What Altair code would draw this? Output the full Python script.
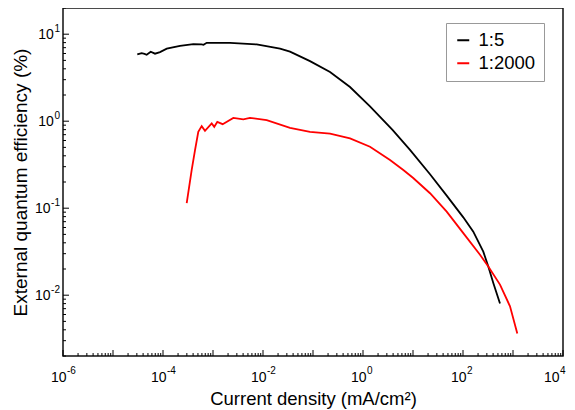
import altair as alt
import pandas as pd

series_names = ["1:5", "1:2000"]
series_colors = ["black", "red"]

# 1:5 device
j_15 = [3.06e-5, 3.75e-5, 4.27e-5, 4.72e-5, 5.68e-5, 6.92e-5, 8.71e-5, 1.19e-4, 2.19e-4, 4.04e-4,
        5.94e-4, 6.46e-4, 7.48e-4, 2.19e-3, 7.48e-3, 0.0219, 0.0347, 0.0871, 0.219, 0.55,
        1.38, 3.89, 8.71, 21.9, 47.2, 101.4, 160.7, 254.7, 320.6, 403.6, 549.5]
eqe_15 = [5.85, 6.05, 5.95, 5.80, 6.28, 5.97, 6.23, 6.81, 7.36, 7.68,
          7.62, 7.55, 7.96, 7.96, 7.62, 6.84, 6.31, 4.9, 3.67, 2.47,
          1.479, 0.794, 0.468, 0.2455, 0.1396, 0.0785, 0.0537, 0.0316, 0.0214, 0.01383, 0.00802]

# 1:2000 device
j_12000 = [2.98e-4, 3.75e-4, 4.37e-4, 5.08e-4, 5.94e-4, 6.92e-4, 9.42e-4, 1.06e-3, 1.22e-3, 1.56e-3,
           2.55e-3, 4.04e-3, 5.5e-3, 0.01186, 0.0347, 0.0871, 0.219, 0.55, 1.38, 3.47,
           6.4, 10.1, 21.9, 47.2, 101.4, 218.8, 320.6, 549.5, 871, 1219]
eqe_12000 = [0.114, 0.275, 0.466, 0.753, 0.877, 0.774, 0.942, 0.861, 0.982, 0.924,
             1.09, 1.05, 1.09, 1.03, 0.84, 0.753, 0.72, 0.634, 0.508, 0.357,
             0.275, 0.222, 0.1486, 0.0914, 0.0517, 0.0292, 0.0214, 0.01324, 0.00746, 0.00363]

x_domain = [1e-6, 1e4]
y_domain = [0.002, 20]
x_label_values = [1e-6, 1e-4, 1e-2, 1, 1e2, 1e4]
x_label_exps = ["-6", "-4", "-2", "0", "2", "4"]
y_label_values = [1e-2, 1e-1, 1, 10]
y_label_exps = ["-2", "-1", "0", "1"]
x_decades = list(range(-6, 5))
y_decades = list(range(-3, 2))
minor_mults = [2, 3, 4, 5, 6, 7, 8, 9]

W, H = 500, 348
FONT = "Liberation Sans"
BASE_FS, EXP_FS = 14, 10

df = pd.concat([
    pd.DataFrame({"j": j_15, "eqe": eqe_15, "s": series_names[0]}),
    pd.DataFrame({"j": j_12000, "eqe": eqe_12000, "s": series_names[1]}),
])

x_major = pd.DataFrame({"v": [10.0 ** e for e in x_decades]})
x_minor = pd.DataFrame({"v": [m * 10.0 ** e for e in x_decades[:-1] for m in minor_mults]})
y_major = pd.DataFrame({"v": [10.0 ** e for e in y_decades[1:]]})
y_minor = pd.DataFrame({"v": [m * 10.0 ** e for e in y_decades for m in minor_mults
                               if y_domain[0] <= m * 10.0 ** e <= y_domain[1]]})
x_labels = pd.DataFrame({"v": x_label_values, "base": "10", "exp": x_label_exps})
y_labels = pd.DataFrame({"v": y_label_values, "base": "10", "exp": y_label_exps})

xs = alt.Scale(type="log", domain=x_domain, nice=False)
ys = alt.Scale(type="log", domain=y_domain, nice=False)

x_axis = alt.Axis(
    values=x_label_values, labels=False, ticks=False, domain=False, grid=False,
    title="Current density (mA/cm²)", titleFontSize=18.5,
    titleFontWeight="normal", titleColor="black", titleY=48, titleBaseline="alphabetic")
y_axis = alt.Axis(
    values=y_label_values, labels=False, ticks=False, domain=False, grid=False,
    title="External quantum efficiency (%)", titleFontSize=19,
    titleFontWeight="normal", titleColor="black", titleX=-43, titleY=H / 2,
    titleBaseline="middle")

lines = alt.Chart(df).mark_line(strokeWidth=1.8, clip=True).encode(
    x=alt.X("j:Q", scale=xs, axis=x_axis),
    y=alt.Y("eqe:Q", scale=ys, axis=y_axis),
    color=alt.Color("s:N", scale=alt.Scale(domain=series_names, range=series_colors),
                    legend=alt.Legend(orient="none", legendX=383, legendY=15, title=None,
                                      labelFontSize=18.5, labelColor="black", labelOffset=6,
                                      symbolType="stroke", symbolStrokeWidth=2, symbolSize=144,
                                      strokeColor="#999", fillColor="white", padding=8,
                                      rowPadding=4)),
)

xt_major = alt.Chart(x_major).mark_rule(color="black", strokeWidth=1).encode(
    x=alt.X("v:Q", scale=xs, axis=x_axis), y=alt.value(H), y2=alt.value(H - 6))
xt_minor = alt.Chart(x_minor).mark_rule(color="black", strokeWidth=1).encode(
    x=alt.X("v:Q", scale=xs, axis=x_axis), y=alt.value(H), y2=alt.value(H - 3))
yt_major = alt.Chart(y_major).mark_rule(color="black", strokeWidth=1).encode(
    y=alt.Y("v:Q", scale=ys, axis=y_axis), x=alt.value(0), x2=alt.value(6))
yt_minor = alt.Chart(y_minor).mark_rule(color="black", strokeWidth=1).encode(
    y=alt.Y("v:Q", scale=ys, axis=y_axis), x=alt.value(0), x2=alt.value(3))


def x_label_layers(test, shift):
    base = alt.Chart(x_labels).transform_filter(test).mark_text(
        align="right", baseline="alphabetic", fontSize=BASE_FS, color="black", dx=3.5 + shift
    ).encode(x=alt.X("v:Q", scale=xs, axis=x_axis), y=alt.value(H + 25.5), text="base:N")
    exp = alt.Chart(x_labels).transform_filter(test).mark_text(
        align="left", baseline="alphabetic", fontSize=EXP_FS, color="black", dx=4 + shift
    ).encode(x=alt.X("v:Q", scale=xs, axis=x_axis), y=alt.value(H + 18), text="exp:N")
    return [base, exp]


def y_label_layers(test, base_x):
    base = alt.Chart(y_labels).transform_filter(test).mark_text(
        align="right", baseline="alphabetic", fontSize=BASE_FS, color="black", dy=5
    ).encode(y=alt.Y("v:Q", scale=ys, axis=y_axis), x=alt.value(base_x), text="base:N")
    exp = alt.Chart(y_labels).transform_filter(test).mark_text(
        align="right", baseline="alphabetic", fontSize=EXP_FS, color="black", dy=-2.5
    ).encode(y=alt.Y("v:Q", scale=ys, axis=y_axis), x=alt.value(-3), text="exp:N")
    return [base, exp]


label_layers = (x_label_layers("datum.v < 1000", 0) + x_label_layers("datum.v >= 1000", -7)
                + y_label_layers("datum.v < 1", -12.4) + y_label_layers("datum.v >= 1", -9.1))

chart = alt.layer(lines, xt_major, xt_minor, yt_major, yt_minor, *label_layers).properties(
    width=W, height=H,
    autosize=alt.AutoSizeParams(type="none"),
    padding={"left": 55, "top": 0, "right": 4, "bottom": 54},
).configure(font=FONT).configure_view(stroke="#111", strokeWidth=1.5)

chart.save("out.html", embed_options={"renderer": "svg", "actions": False})
